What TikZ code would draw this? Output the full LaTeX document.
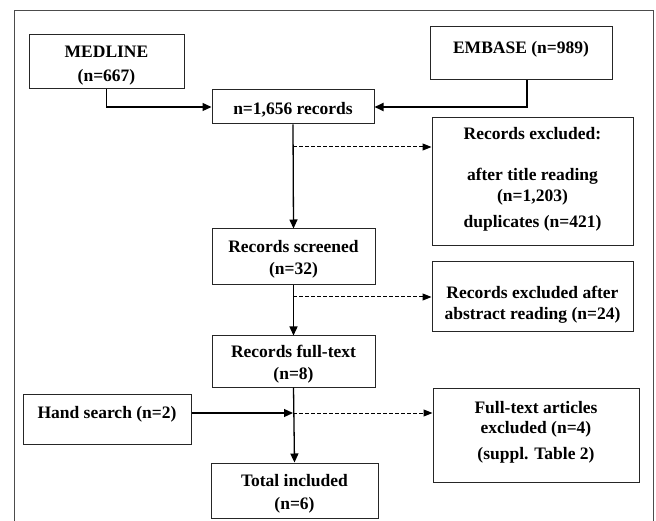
\documentclass[tikz,border=0pt]{standalone}
\usepackage{fontspec}
\setmainfont{Liberation Serif}
\usetikzlibrary{arrows.meta}
\begin{document}
\begin{tikzpicture}[x=1pt,y=-1pt,
  box/.style={draw=black!85, line width=1pt, fill=white, inner sep=0pt},
  txt/.style={align=center, inner sep=0pt, font=\fontsize{17.5}{20}\selectfont\bfseries},
  arr/.style={line width=1.3pt, -{Triangle[length=9pt,width=8pt]}},
  darr/.style={line width=1pt, dash pattern=on 4pt off 2pt, -{Triangle[length=9pt,width=7pt]}}]
\useasboundingbox (0,0) rectangle (656,521);
\draw[black!70, line width=1pt] (14,525) coordinate (fbl) -- (14,11) -- (653,11) -- (653,525) coordinate (fbr);
% boxes
\node[box, minimum width=155pt, minimum height=54pt] (medline) at (106.5,62) {};
\node[box, minimum width=162pt, minimum height=34pt] (recs) at (293,107) {};
\node[box, minimum width=182pt, minimum height=53pt] (embase) at (521,53.5) {};
\node[box, minimum width=201pt, minimum height=128pt] (excl1) at (532.5,182) {};
\node[box, minimum width=163pt, minimum height=56pt] (screened) at (293.5,257) {};
\node[box, minimum width=201pt, minimum height=70pt] (excl2) at (532.5,297) {};
\node[box, minimum width=163pt, minimum height=51pt] (fulltext) at (293.5,361.5) {};
\node[box, minimum width=168pt, minimum height=50pt] (hand) at (107,419) {};
\node[box, minimum width=206pt, minimum height=94pt] (excl3) at (536,435) {};
\node[box, minimum width=167pt, minimum height=55pt] (total) at (294.5,490.5) {};
% texts
\node[txt] (tmedline) at (106.5,66) {MEDLINE\\[4pt](n=667)};
\node[txt] (trecs) at (293,109.5) {n=1,656 records};
\node[txt] (tembase) at (521,49.5) {EMBASE (n=989)};
\node[txt] (texcl1) at (532.5,179.5) {Records excluded:\\[21pt]after title reading\\[1pt](n=1,203)\\[6pt]duplicates (n=421)};
\node[txt] (tscreened) at (293.5,259) {Records screened\\[2pt](n=32)};
\node[txt] (texcl2) at (532.5,304.5) {Records excluded after\\[1pt]abstract reading (n=24)};
\node[txt] (tfulltext) at (293.5,364.5) {Records full-text\\[2pt](n=8)};
\node[txt] (thand) at (107,414.5) {Hand search (n=2)};
\node[txt] (texcl3) at (536,432) {Full-text articles\\excluded (n=4)\\[6pt](suppl. Table 2)};
\node[txt] (ttotal) at (294.5,494) {Total included\\[3pt](n=6)};
% connectors
\draw[arr] (medline.south) |- (recs.west);
\draw[arr, line width=1.8pt] ([xshift=6pt]embase.south) |- (recs.east);
\draw[arr] (recs.south) -- (screened.north);
\draw[arr] (screened.south) -- (fulltext.north);
\draw[arr] (fulltext.south) -- (total.north);
\coordinate (d1) at (293,147);
\coordinate (d2) at (293,297);
\coordinate (j) at (293,413);
\draw[darr] (d1) -- (d1 -| excl1.west);
\draw[darr] (d2) -- (d2 -| excl2.west);
\draw[arr] (hand.east |- j) -- (j);
\draw[darr] (j) -- (j -| excl3.west);
\end{tikzpicture}
\end{document}
